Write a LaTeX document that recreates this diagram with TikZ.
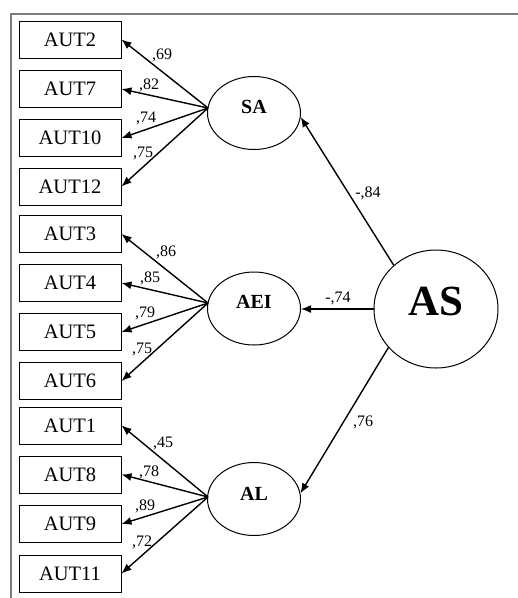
\documentclass[tikz,border=0pt]{standalone}
\usepackage{fontspec}
\setmainfont{Liberation Serif}
\usetikzlibrary{arrows.meta,shapes.geometric}
\definecolor{framegray}{RGB}{125,125,125}
\begin{document}
\begin{tikzpicture}[x=1pt,y=-1pt,
  ind/.style={draw, line width=1pt, rectangle, minimum width=102pt, minimum height=37pt, inner sep=0pt, font=\fontsize{20.5}{24}\selectfont},
  lat/.style={draw, line width=1pt, ellipse, minimum width=93pt, minimum height=73pt, inner sep=0pt, font=\bfseries\fontsize{20}{24}\selectfont},
  arr/.style={line width=1.4pt, -{Latex[length=10pt,width=8pt]}},
  lab/.style={inner sep=0pt, font=\fontsize{16}{18}\selectfont},
  frame/.style={draw=framegray, line width=1.5pt}]
\useasboundingbox (0,0) rectangle (518,598);
% frame
\coordinate (fA) at (518,14);
\coordinate (fB) at (11,14);
\coordinate (fC) at (11,598);
\draw[frame] (fA) -- (fB) -- (fC);
% indicators
\node[ind] (AUT2)  at (70,39.5)  {AUT2};
\node[ind] (AUT7)  at (70,89)    {AUT7};
\node[ind] (AUT10) at (70,138)   {AUT10};
\node[ind] (AUT12) at (70,186.5) {AUT12};
\node[ind] (AUT3)  at (70,234)   {AUT3};
\node[ind] (AUT4)  at (70,283)   {AUT4};
\node[ind] (AUT5)  at (70,332)   {AUT5};
\node[ind] (AUT6)  at (70,381)   {AUT6};
\node[ind] (AUT1)  at (70,425.5) {AUT1};
\node[ind] (AUT8)  at (70,474.5) {AUT8};
\node[ind] (AUT9)  at (70,524)   {AUT9};
\node[ind] (AUT11) at (70,573.5) {AUT11};
% latent factors
\node[lat] (SA)  at (254,113)   {\raisebox{12pt}{SA}};
\node[lat] (AEI) at (254,308.5) {\raisebox{14pt}{AEI}};
\node[lat] (AL)  at (254,499)   {\raisebox{11pt}{AL}};
\node[draw, line width=1pt, ellipse, minimum width=124pt, minimum height=118pt, inner sep=0pt,
      font=\bfseries\fontsize{43}{48}\selectfont] (AS) at (436,309) {\raisebox{16pt}{AS}};
% convergence points
\coordinate (cSA)  at (208,108);
\coordinate (cAEI) at (208,303);
\coordinate (cAL)  at (208,497);
% loadings
\draw[arr] (cSA) -- (AUT2.east);
\draw[arr] (cSA) -- (AUT7.east);
\draw[arr] (cSA) -- (AUT10.east);
\draw[arr] (cSA) -- (AUT12.east);
\draw[arr] (cAEI) -- (AUT3.east);
\draw[arr] (cAEI) -- (AUT4.east);
\draw[arr] (cAEI) -- (AUT5.east);
\draw[arr] (cAEI) -- (AUT6.east);
\draw[arr] (cAL) -- (AUT1.east);
\draw[arr] (cAL) -- (AUT8.east);
\draw[arr] (cAL) -- (AUT9.east);
\draw[arr] (cAL) -- (AUT11.east);
% structural paths
\draw[arr] (AS.134) -- (SA.-5);
\draw[arr] (AS.west) -- (AS.west -| AEI.east);
\draw[arr] (AS.219) -- (AL.7);
% labels
\node[lab] (l69)  at (162,55)  {,69};
\node[lab] (l82)  at (149,85)  {,82};
\node[lab] (l74)  at (146,118) {,74};
\node[lab] (l75a) at (143,153) {,75};
\node[lab] (l86)  at (166,252) {,86};
\node[lab] (l85)  at (150,278) {,85};
\node[lab] (l79)  at (145,313) {,79};
\node[lab] (l75b) at (142,349) {,75};
\node[lab] (l45)  at (163,443) {,45};
\node[lab] (l78)  at (149,472) {,78};
\node[lab] (l89)  at (145,506) {,89};
\node[lab] (l72)  at (142,542) {,72};
\node[lab] (l84)  at (368,193) {-,84};
\node[lab] (l74s) at (338,298) {-,74};
\node[lab] (l76)  at (363,422) {,76};
\end{tikzpicture}
\end{document}
